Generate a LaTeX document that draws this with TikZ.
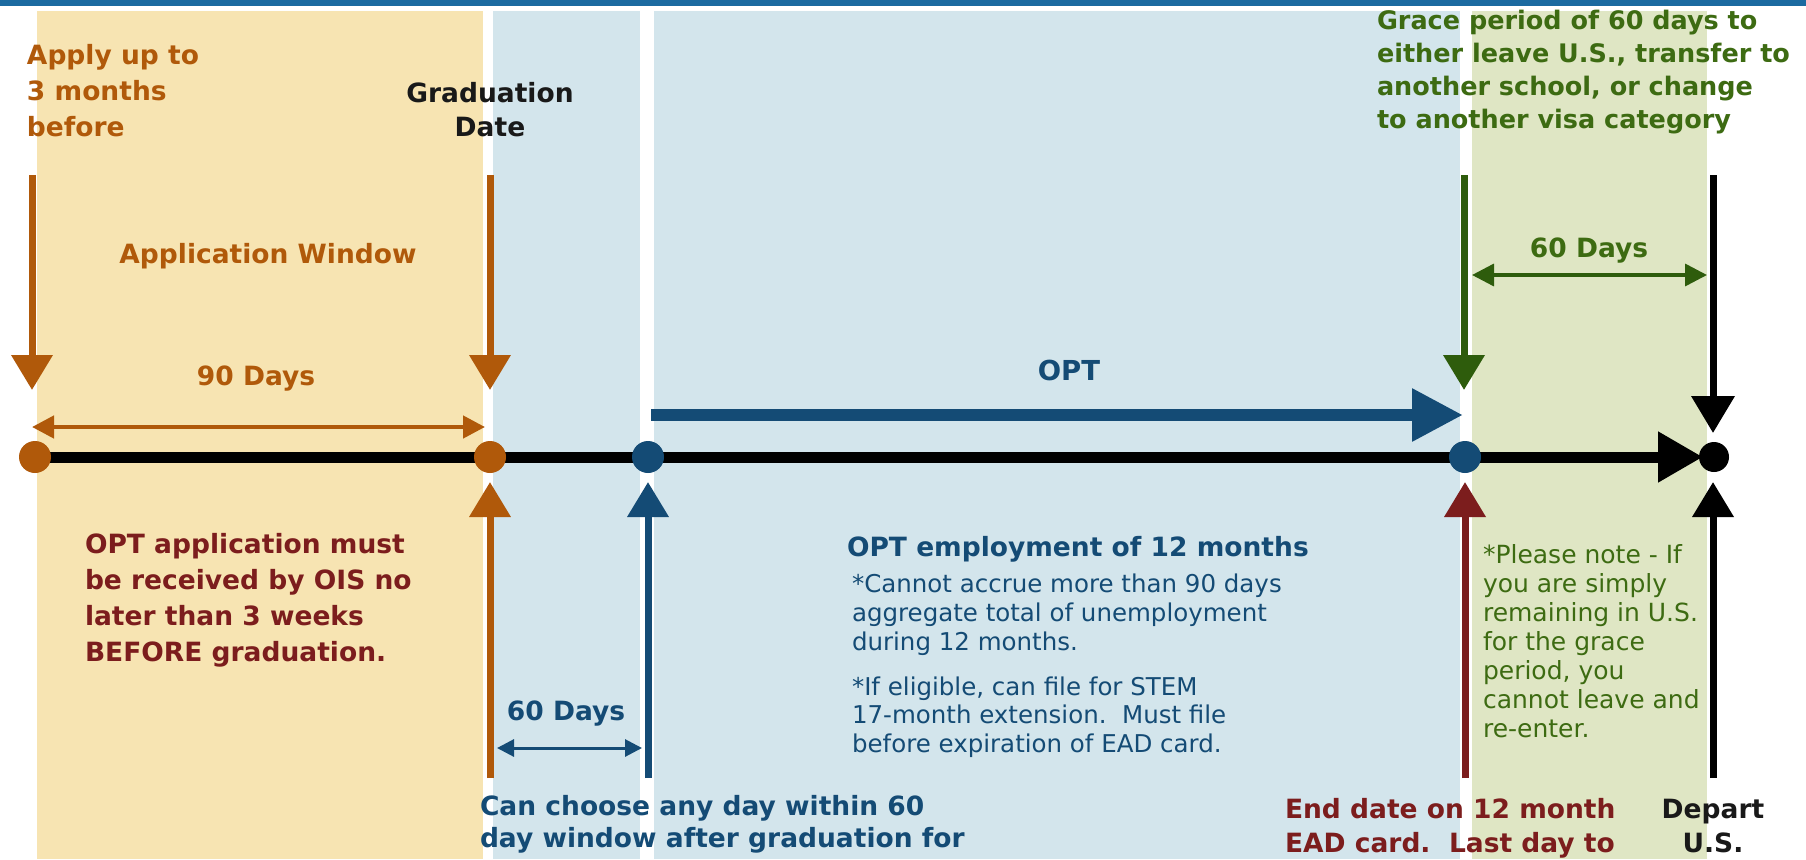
\documentclass[tikz,border=0pt]{standalone}
\usepackage{fontspec}
\setmainfont{DejaVu Sans}
\usetikzlibrary{arrows.meta}
\definecolor{topbar}{HTML}{1B6AA0}
\definecolor{bandO}{HTML}{F7E4B2}
\definecolor{bandB}{HTML}{D3E5EC}
\definecolor{bandG}{HTML}{DFE6C4}
\definecolor{orng}{HTML}{B0590A}
\definecolor{navy}{HTML}{144B75}
\definecolor{dred}{HTML}{7C1D1D}
\definecolor{grn}{HTML}{3D6B12}
\definecolor{grnA}{HTML}{2E5C0C}
\newcommand{\tlines}[2]{\begin{tabular}[t]{@{}#1@{}}#2\end{tabular}}
\begin{document}
\begin{tikzpicture}[x=1pt,y=-1pt,
  txt/.style={inner sep=0pt, outer sep=0pt},
  bigtxt/.style={txt, font=\fontsize{26.5}{#1}\selectfont\bfseries},
  bigtxt/.default=34,
  smalltxt/.style={txt, font=\fontsize{24.5}{#1}\selectfont},
  smalltxt/.default=29,
  dotnode/.style={circle, inner sep=0pt, minimum size=32pt},
  vshaft/.style={line width=7pt, -{Triangle[length=35pt,width=40pt]}},
  dimarrow/.style={line width=4.5pt, {Triangle[length=22pt,width=22pt]}-{Triangle[length=22pt,width=22pt]}},
  smalldim/.style={line width=3pt, {Triangle[length=17pt,width=17pt]}-{Triangle[length=17pt,width=17pt]}},
]
\useasboundingbox (0,0) rectangle (1806,859);
\fill[white] (0,0) rectangle (1806,859);
% top bar and bands
\fill[topbar] (0,0) rectangle (1806,6);
\fill[bandO] (37,11) rectangle (483,859);
\fill[bandB] (493,11) rectangle (640,859);
\fill[bandB] (654,11) rectangle (1460,859);
\fill[bandG] (1472,11) rectangle (1707,859);

% timeline points
\coordinate (pA) at (35,457);
\coordinate (pG) at (490,457);
\coordinate (pS) at (648,457);
\coordinate (pE) at (1465,457);
\coordinate (pD) at (1714,457);

% arrow end coordinates
\coordinate (aTop) at (32,175);   \coordinate (aTip) at (32,390);
\coordinate (gTop) at (490,175);  \coordinate (gTip) at (490,390);
\coordinate (eTop) at (1464,175); \coordinate (eTip) at (1464,390);
\coordinate (xTop) at (1713,175); \coordinate (xTip) at (1713,433);
\coordinate (gBot) at (490,778);  \coordinate (gUp) at (490,482);
\coordinate (sBot) at (648,778);  \coordinate (sUp) at (648,482);
\coordinate (eBot) at (1465,778); \coordinate (eUp) at (1465,482);
\coordinate (dBot) at (1713,778); \coordinate (dUp) at (1713,482);
\coordinate (optL) at (651,415);  \coordinate (optR) at (1463,415);
\coordinate (nL) at (32,427);     \coordinate (nR) at (485,427);
\coordinate (sL) at (497,748);    \coordinate (sR) at (642,748);
\coordinate (gL) at (1472,275);   \coordinate (gR) at (1707,275);
\coordinate (tEnd) at (1703,457);

% timeline
\draw[line width=11pt, -{Triangle[length=45pt,width=48pt]}] (pA) -- (tEnd);
% OPT arrow
\draw[navy, line width=12pt, -{Triangle[length=51pt,width=50pt]}] (optL) -- (optR);

% dots
\node[dotnode, fill=orng] (dA) at (pA) {};
\node[dotnode, fill=orng] (dG) at (pG) {};
\node[dotnode, fill=navy] (dS) at (pS) {};
\node[dotnode, fill=navy] (dE) at (pE) {};
\node[dotnode, fill=black, minimum size=30pt] (dD) at (pD) {};

% down arrows
\draw[vshaft, orng] (aTop) -- (aTip);
\draw[vshaft, orng] (gTop) -- (gTip);
\draw[vshaft, grnA] (eTop) -- (eTip);
\draw[vshaft, black, -{Triangle[length=37pt,width=42pt]}] (xTop) -- (xTip);
% up arrows
\draw[vshaft, orng] (gBot) -- (gUp);
\draw[vshaft, navy] (sBot) -- (sUp);
\draw[vshaft, dred] (eBot) -- (eUp);
\draw[vshaft, black] (dBot) -- (dUp);

% dimension arrows
\draw[dimarrow, orng] (nL) -- (nR);
\draw[smalldim, navy] (sL) -- (sR);
\draw[dimarrow, grnA, line width=3.5pt] (gL) -- (gR);

% texts
\node[bigtxt=35.5, text=orng, anchor=base west] (apply) at (27,65)
  {\tlines{l}{Apply up to\\3 months\\before}};
\node[bigtxt=34, text=black!90, anchor=base] (grad) at (490,102)
  {\tlines{c}{Graduation\\Date}};
\node[bigtxt, text=orng, anchor=base] (appwin) at (268,263) {Application Window};
\node[bigtxt, text=orng, anchor=base] (ninety) at (256,385) {90 Days};
\node[bigtxt, text=navy, anchor=base, font=\fontsize{27.5}{34}\selectfont\bfseries] (opt) at (1069,380) {OPT};
\node[bigtxt=36.3, text=dred, anchor=base west] (optapp) at (85,553)
  {\tlines{l}{OPT application must\\be received by OIS no\\later than 3 weeks\\BEFORE graduation.}};
\node[bigtxt, text=navy, anchor=base] (sixtyN) at (566,720) {60 Days};
\node[bigtxt=32, text=navy, anchor=base west] (choose) at (480,815)
  {\tlines{l}{Can choose any day within 60\\day window after graduation for}};
\node[bigtxt, text=navy, anchor=base west] (optemp) at (847,556) {OPT employment of 12 months};
\node[smalltxt=29, text=navy, anchor=base west] (cannot) at (852,592)
  {\tlines{l}{*Cannot accrue more than 90 days\\aggregate total of unemployment\\during 12 months.}};
\node[smalltxt=28.5, text=navy, anchor=base west] (stem) at (852,695)
  {\tlines{l}{*If eligible, can file for STEM\\17-month extension.\ \ Must file\\before expiration of EAD card.}};
\node[txt, font=\fontsize{25.5}{32.7}\selectfont\bfseries, text=grn, anchor=base west] (grace) at (1377,30)
  {\tlines{l}{Grace period of 60 days to\\either leave U.S., transfer to\\another school, or change\\to another visa category}};
\node[bigtxt, text=grn, anchor=base] (sixtyG) at (1589,257) {60 Days};
\node[txt, font=\fontsize{25}{29}\selectfont, text=grn, anchor=base west] (note) at (1483,563)
  {\tlines{l}{*Please note - If\\you are simply\\remaining in U.S.\\for the grace\\period, you\\cannot leave and\\re-enter.}};
\node[bigtxt=34, text=dred, anchor=base west] (enddate) at (1285,818)
  {\tlines{l}{End date on 12 month\\EAD card.\ \ Last day to}};
\node[bigtxt=34, text=black!90, anchor=base] (depart) at (1713,818)
  {\tlines{c}{Depart\\U.S.}};
\end{tikzpicture}
\end{document}
